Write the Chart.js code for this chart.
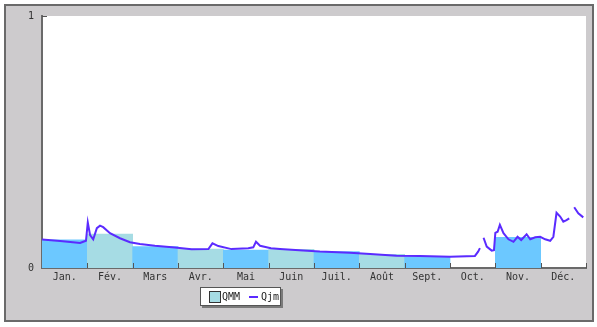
<!DOCTYPE html>
<html>
<head>
<meta charset="utf-8">
<script src="https://cdn.jsdelivr.net/npm/chart.js@4/dist/chart.umd.min.js"></script>
<style>
  body { margin: 0; background: #fff; }
  #wrap { position: relative; width: 597px; height: 327px; }
  canvas { display: block; }
  #legend {
    position: absolute; left: 200px; top: 287px; width: 79px; height: 17px;
    background: #fff; border: 1px solid #555; box-shadow: 2px 2px 0 #7a7a7a;
    font: 10px "DejaVu Sans Mono", monospace; color: #222;
  }
  #legend .box { position: absolute; left: 8px; top: 3px; width: 10px; height: 10px;
    background: #a6dce4; border: 1px solid #333; }
  #legend .t1 { position: absolute; left: 21px; top: 3px; }
  #legend .ln { position: absolute; left: 48px; top: 8px; width: 9px; height: 2px; background: #5b2bff; }
  #legend .t2 { position: absolute; left: 60px; top: 3px; }
</style>
</head>
<body>
<div id="wrap">
  <canvas id="graph" width="597" height="327"></canvas>
  <div id="legend"><span class="box"></span><span class="t1">QMM</span><span class="ln"></span><span class="t2">Qjm</span></div>
</div>
<script>
const months = ["Jan.", "Fév.", "Mars", "Avr.", "Mai", "Juin", "Juil.", "Août", "Sept.", "Oct.", "Nov.", "Déc."];
const qmm = [0.112, 0.135, 0.085, 0.075, 0.071, 0.074, 0.065, 0.054, 0.044, null, 0.122, null];
const qmmColors = ["#6cc8ff", "#a6dce4", "#6cc8ff", "#a6dce4", "#6cc8ff", "#a6dce4",
                   "#6cc8ff", "#a6dce4", "#6cc8ff", "#a6dce4", "#6cc8ff", "#a6dce4"];

// daily flow, position in months (0 = 1st Jan)
const qjmX = [0.00, 0.40, 0.68, 0.84, 0.91, 0.97, 1.01, 1.06, 1.13, 1.21, 1.28, 1.35, 1.50, 1.72, 1.94,
  2.16, 2.49, 2.93, 3.30, 3.67, 3.76, 3.89, 4.18, 4.55, 4.66, 4.72, 4.81, 5.05, 5.25, 5.76,
  6.13, 6.79, 7.24, 7.82, 8.34, 9.00, 9.55, 9.62, 9.66, 9.70,
  9.74, 9.81, 9.92, 9.97, 10.00, 10.05, 10.10, 10.18, 10.29, 10.40, 10.49, 10.57, 10.69, 10.77,
  10.88, 10.99, 11.10, 11.21, 11.28, 11.35, 11.43, 11.50, 11.57, 11.63, 11.68,
  11.74, 11.83, 11.94];
const qjmY = [0.113, 0.107, 0.102, 0.099, 0.104, 0.108, 0.181, 0.131, 0.114, 0.158, 0.168, 0.162, 0.138, 0.118, 0.102,
  0.095, 0.088, 0.081, 0.074, 0.075, 0.098, 0.087, 0.075, 0.078, 0.082, 0.104, 0.088, 0.078, 0.075, 0.069,
  0.065, 0.061, 0.056, 0.049, 0.048, 0.045, 0.048, 0.065, 0.079, null,
  0.120, 0.085, 0.069, 0.071, 0.139, 0.144, 0.171, 0.138, 0.114, 0.104, 0.124, 0.111, 0.134, 0.114,
  0.122, 0.124, 0.114, 0.108, 0.124, 0.219, 0.204, 0.184, 0.190, 0.197, null,
  0.241, 0.217, 0.201];

const frame = {
    id: "frame",
    beforeDraw(chart) {
        const c = chart.ctx, a = chart.chartArea;
        c.save();
        c.fillStyle = "#fff";
        c.fillRect(0, 0, chart.width, chart.height);
        c.fillStyle = "#cdcbcd";
        c.fillRect(5, 5, 588, 316);
        c.strokeStyle = "#6a6a6a";
        c.lineWidth = 2;
        c.strokeRect(5, 5, 588, 316);
        c.fillStyle = "#fff";
        c.fillRect(a.left, a.top, a.right - a.left, a.bottom - a.top);
        c.restore();
    },
    afterDraw(chart) {
        const c = chart.ctx, a = chart.chartArea;
        const sx = chart.scales.x2, sy = chart.scales.y;
        c.save();
        c.strokeStyle = "#555";
        c.lineWidth = 1;
        c.beginPath();
        for (let i = 1; i <= 12; i++) {
            const px = Math.round(sx.getPixelForValue(i)) + 0.5;
            c.moveTo(px, a.bottom);
            c.lineTo(px, a.bottom - 5);
        }
        const py = Math.round(sy.getPixelForValue(1)) + 0.5;
        c.moveTo(a.left, py);
        c.lineTo(a.left + 5, py);
        c.stroke();
        c.restore();
    }
};

const graph = document.getElementById("graph").getContext("2d");

let myChart = new Chart(graph, {
    type: "bar",
    data: {
        labels: months,
        datasets: [
            {
                type: "line",
                label: "Qjm",
                xAxisID: "x2",
                data: qjmX.map((x, i) => ({ x: x, y: qjmY[i] })),
                borderColor: "#5b2bff",
                borderWidth: 2,
                pointRadius: 0,
                tension: 0,
                spanGaps: false,
                order: 0
            },
            {
                label: "QMM",
                xAxisID: "x",
                data: qmm,
                backgroundColor: qmmColors,
                borderWidth: 0,
                grouped: false,
                categoryPercentage: 1,
                barPercentage: 1,
                order: 1
            }
        ]
    },
    options: {
        responsive: false,
        animation: false,
        layout: { padding: { left: 0, right: 11, top: 16, bottom: 0 } },
        plugins: { legend: { display: false }, tooltip: { enabled: false } },
        scales: {
            x: {
                offset: true,
                grid: { display: false, drawTicks: false, tickLength: 0 },
                border: { display: true, color: "#6a6a6a", width: 2 },
                ticks: { color: "#333", padding: 3, font: { family: "DejaVu Sans Mono", size: 10 } },
                afterFit: s => { s.height = 59; }
            },
            x2: { type: "linear", min: 0, max: 12, offset: false, display: false },
            y: {
                min: 0,
                max: 1,
                grid: { display: false, drawTicks: false, tickLength: 0 },
                border: { display: true, color: "#6a6a6a", width: 2 },
                ticks: { stepSize: 1, color: "#333", padding: 8, font: { family: "DejaVu Sans Mono", size: 10 } },
                afterFit: s => { s.width = 42; }
            }
        }
    },
    plugins: [frame]
});
</script>
</body>
</html>
